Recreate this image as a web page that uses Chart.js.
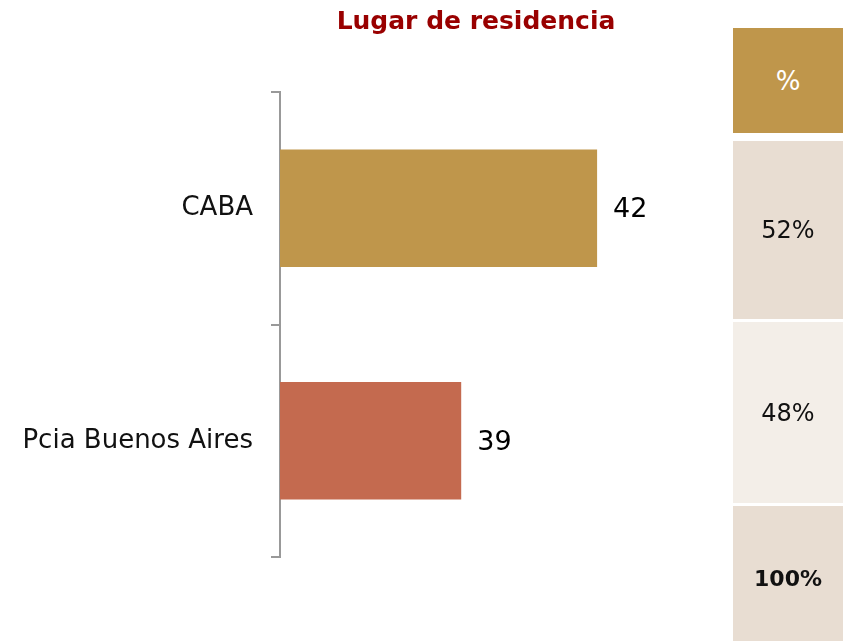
<!DOCTYPE html>
<html>
<head>
<meta charset="utf-8">
<script src="https://cdn.jsdelivr.net/npm/chart.js@4/dist/chart.umd.min.js"></script>
<style>
  html, body { margin: 0; padding: 0; background: #fff; }
  #wrap { position: relative; width: 843px; height: 641px; overflow: hidden; font-family: "DejaVu Sans", sans-serif; }
  #chart { position: absolute; left: 0; top: 0; }
  #titulo { position: absolute; left: 276px; width: 400px; top: 6px; text-align: center;
            color: #990000; font-weight: bold; font-size: 25px; line-height: 30px; }
  .celda { position: absolute; left: 733px; width: 110px; display: flex; align-items: center;
           justify-content: center; font-size: 24px; color: #111; }
</style>
</head>
<body>
<div id="wrap">
  <canvas id="chart" width="843" height="641"></canvas>
  <div id="titulo">Lugar de residencia</div>
  <div id="tabla"></div>
</div>
<script>
// datos
const categorias = ['CABA', 'Pcia Buenos Aires'];
const valores = [42, 39];
const colores = ['#BF964B', '#C46A4F'];
const encabezado = '%';
const porcentajes = ['52%', '48%'];
const total = '100%';

// tabla de la derecha
const tabla = document.getElementById('tabla');
const filas = [
  { texto: encabezado, top: 28, h: 105, bg: '#BF964B', color: '#fff', size: 26 },
  { texto: porcentajes[0], top: 141, h: 178, bg: '#E8DDD2' },
  { texto: porcentajes[1], top: 322, h: 181, bg: '#F3EEE8' },
  { texto: total, top: 506, h: 145, bg: '#E8DDD2', bold: true, size: 22 }
];
filas.forEach(f => {
  const d = document.createElement('div');
  d.className = 'celda';
  d.style.top = f.top + 'px';
  d.style.height = f.h + 'px';
  d.style.background = f.bg;
  if (f.color) d.style.color = f.color;
  if (f.bold) d.style.fontWeight = 'bold';
  if (f.size) d.style.fontSize = f.size + 'px';
  d.textContent = f.texto;
  tabla.appendChild(d);
});

// etiquetas de valor al final de cada barra
const etiquetas = {
  id: 'etiquetas',
  afterDatasetsDraw(chart) {
    const ctx = chart.ctx;
    const meta = chart.getDatasetMeta(0);
    ctx.save();
    ctx.font = '27px "DejaVu Sans"';
    ctx.fillStyle = '#000';
    ctx.textAlign = 'left';
    ctx.textBaseline = 'middle';
    meta.data.forEach((bar, i) => {
      ctx.fillText(String(valores[i]), bar.x + 16, bar.y + 2);
    });
    ctx.restore();
  }
};

new Chart(document.getElementById('chart'), {
  type: 'bar',
  data: {
    labels: categorias,
    datasets: [{
      data: valores,
      backgroundColor: colores,
      borderWidth: 0,
      categoryPercentage: 1,
      barPercentage: 0.505
    }]
  },
  options: {
    indexAxis: 'y',
    responsive: false,
    animation: false,
    layout: { padding: { top: 92, bottom: 84, left: 0, right: 110 } },
    plugins: {
      legend: { display: false },
      tooltip: { enabled: false }
    },
    scales: {
      x: {
        display: false,
        min: 35,
        max: 45
      },
      y: {
        offset: true,
        afterFit(scale) { scale.width = 280; },
        border: { display: true, color: '#999', width: 2 },
        grid: {
          offset: true,
          drawOnChartArea: false,
          drawTicks: true,
          tickLength: 9,
          color: '#999',
          lineWidth: 2
        },
        ticks: {
          padding: 18,
          color: '#111',
          font: { family: 'DejaVu Sans', size: 26 }
        }
      }
    }
  },
  plugins: [etiquetas]
});
</script>
</body>
</html>
